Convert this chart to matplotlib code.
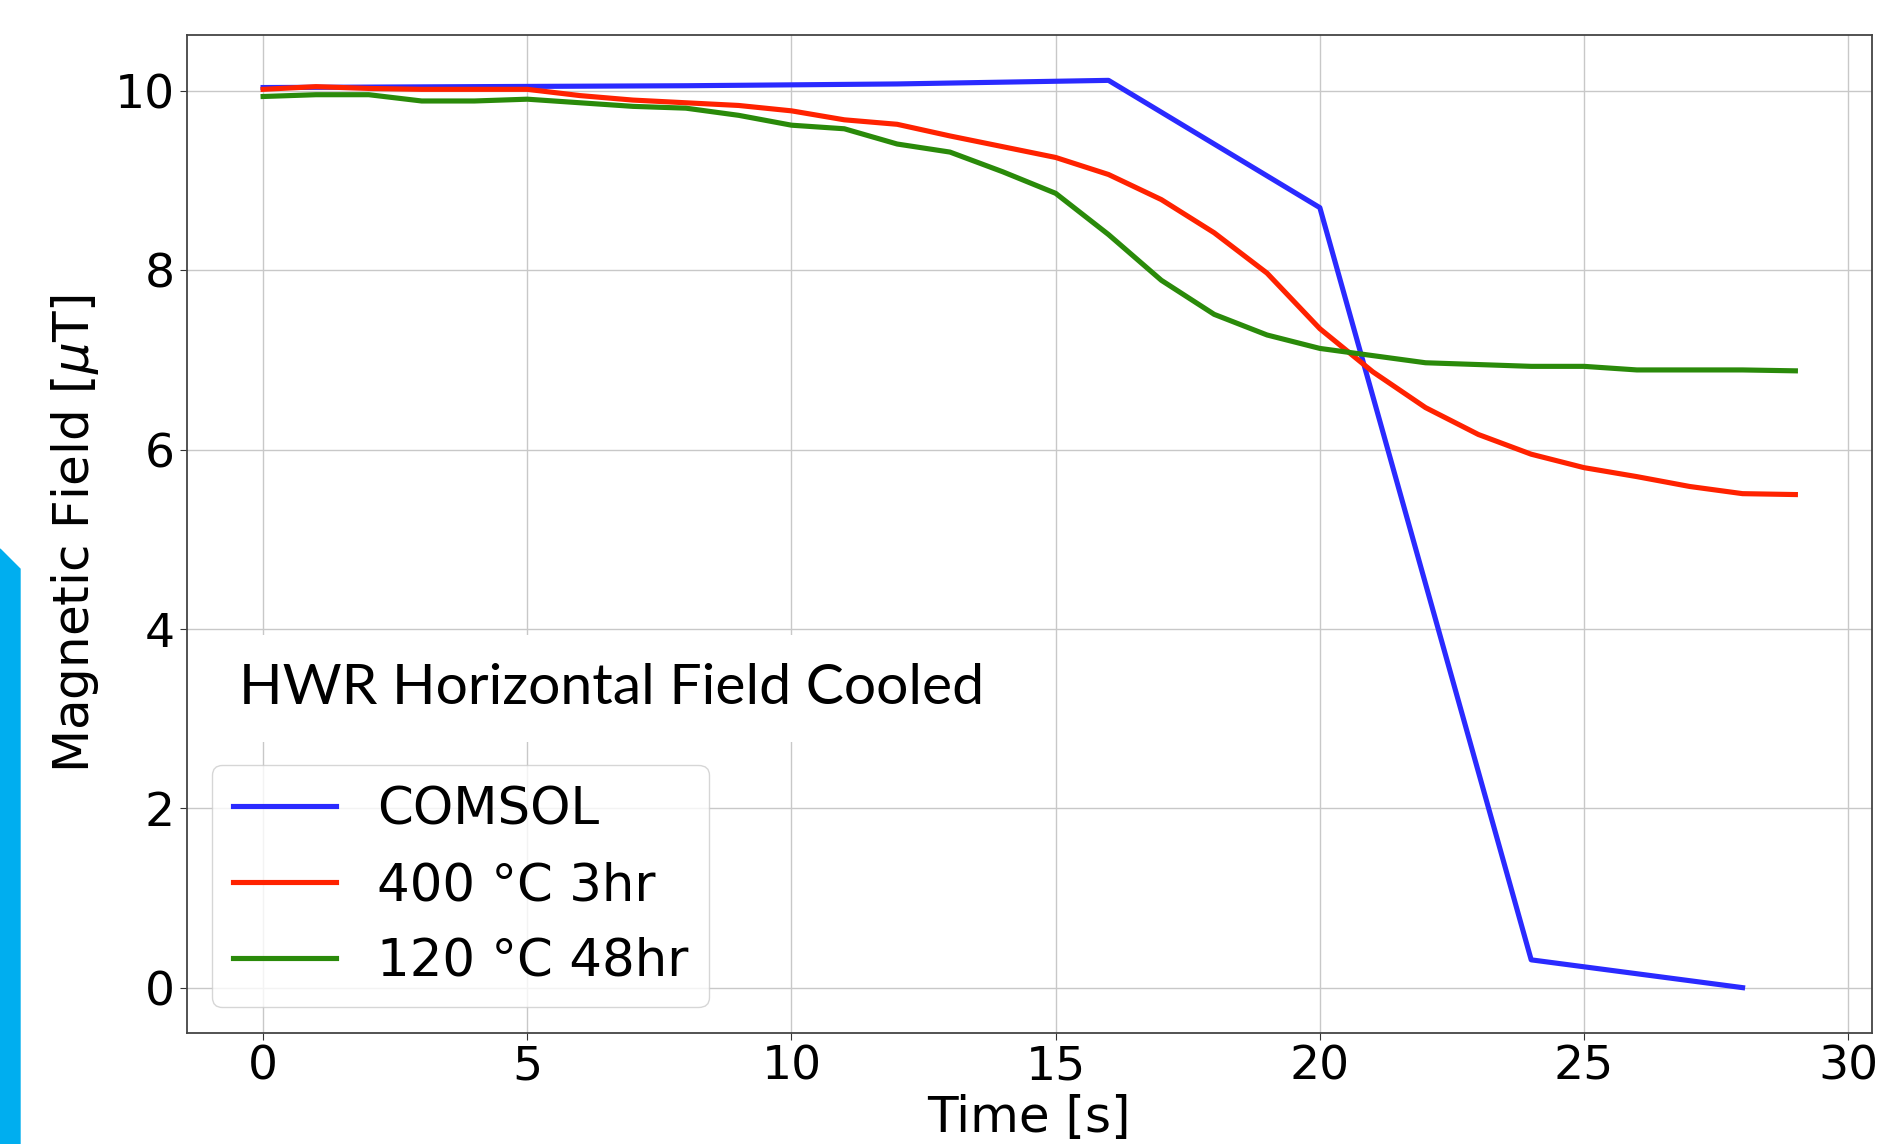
import numpy as np
import matplotlib.pyplot as plt
from matplotlib.patches import Polygon

# data
t_comsol = [0, 4, 8, 12, 16, 20, 24, 28]
b_comsol = [10.04, 10.05, 10.06, 10.08, 10.12, 8.70, 0.31, 0.0]

t_meas = list(range(30))
b_400c = [10.02, 10.05, 10.03, 10.02, 10.02, 10.02, 9.95, 9.90, 9.87, 9.84,
          9.78, 9.68, 9.63, 9.50, 9.38, 9.26, 9.07, 8.79, 8.42, 7.97,
          7.35, 6.87, 6.47, 6.17, 5.95, 5.80, 5.70, 5.59, 5.51, 5.50]
b_120c = [9.94, 9.96, 9.96, 9.89, 9.89, 9.91, 9.87, 9.83, 9.81, 9.73,
          9.62, 9.58, 9.41, 9.32, 9.10, 8.86, 8.40, 7.89, 7.51, 7.28,
          7.13, 7.05, 6.97, 6.95, 6.93, 6.93, 6.89, 6.89, 6.89, 6.88]

labels = ['COMSOL', '400 °C 3hr', '120 °C 48hr']
colors = ['#2a2aff', '#ff2200', '#2a8a0a']

W, H = 1879, 1144
fig = plt.figure(figsize=(W / 100, H / 100), dpi=100)
ax = fig.add_axes([186.5 / W, 1 - 1033 / H, (1872 - 186.5) / W, (1033 - 35) / H])

ax.plot(t_comsol, b_comsol, color=colors[0], lw=3.7, label=labels[0])
ax.plot(t_meas, b_400c, color=colors[1], lw=3.7, label=labels[1])
ax.plot(t_meas, b_120c, color=colors[2], lw=3.7, label=labels[2])

ax.grid(color='#c8c8c8', lw=1)
ax.set_axisbelow(True)
ax.set_xticks([0, 5, 10, 15, 20, 25, 30])
ax.set_yticks([0, 2, 4, 6, 8, 10])
ax.tick_params(labelsize=34, length=5, color='#333333')
for s in ax.spines.values():
    s.set_color('#444444')
    s.set_linewidth(1.3)

ax.set_xlabel('Time [s]', fontsize=36, labelpad=3)
ax.set_ylabel(r'Magnetic Field [$\mu$T]', fontsize=36, labelpad=10)

ax.legend(loc='lower left', fontsize=37, handlelength=2.0,
          borderaxespad=0.5, framealpha=0.8)

ax.text(0.031, 0.345, 'HWR Horizontal Field Cooled',
        transform=ax.transAxes, fontsize=41, family=['Lato', 'DejaVu Sans'],
        va='center', ha='left',
        bbox=dict(facecolor='white', edgecolor='none', pad=20))

# slide accent bar on the left edge
bar = Polygon([(0, 1 - 549 / H), (20 / W, 1 - 569 / H), (20 / W, 0), (0, 0)],
              closed=True, transform=fig.transFigure, color='#00aeef',
              clip_on=False)
fig.patches.append(bar)

fig.savefig('out.png', dpi=100)
